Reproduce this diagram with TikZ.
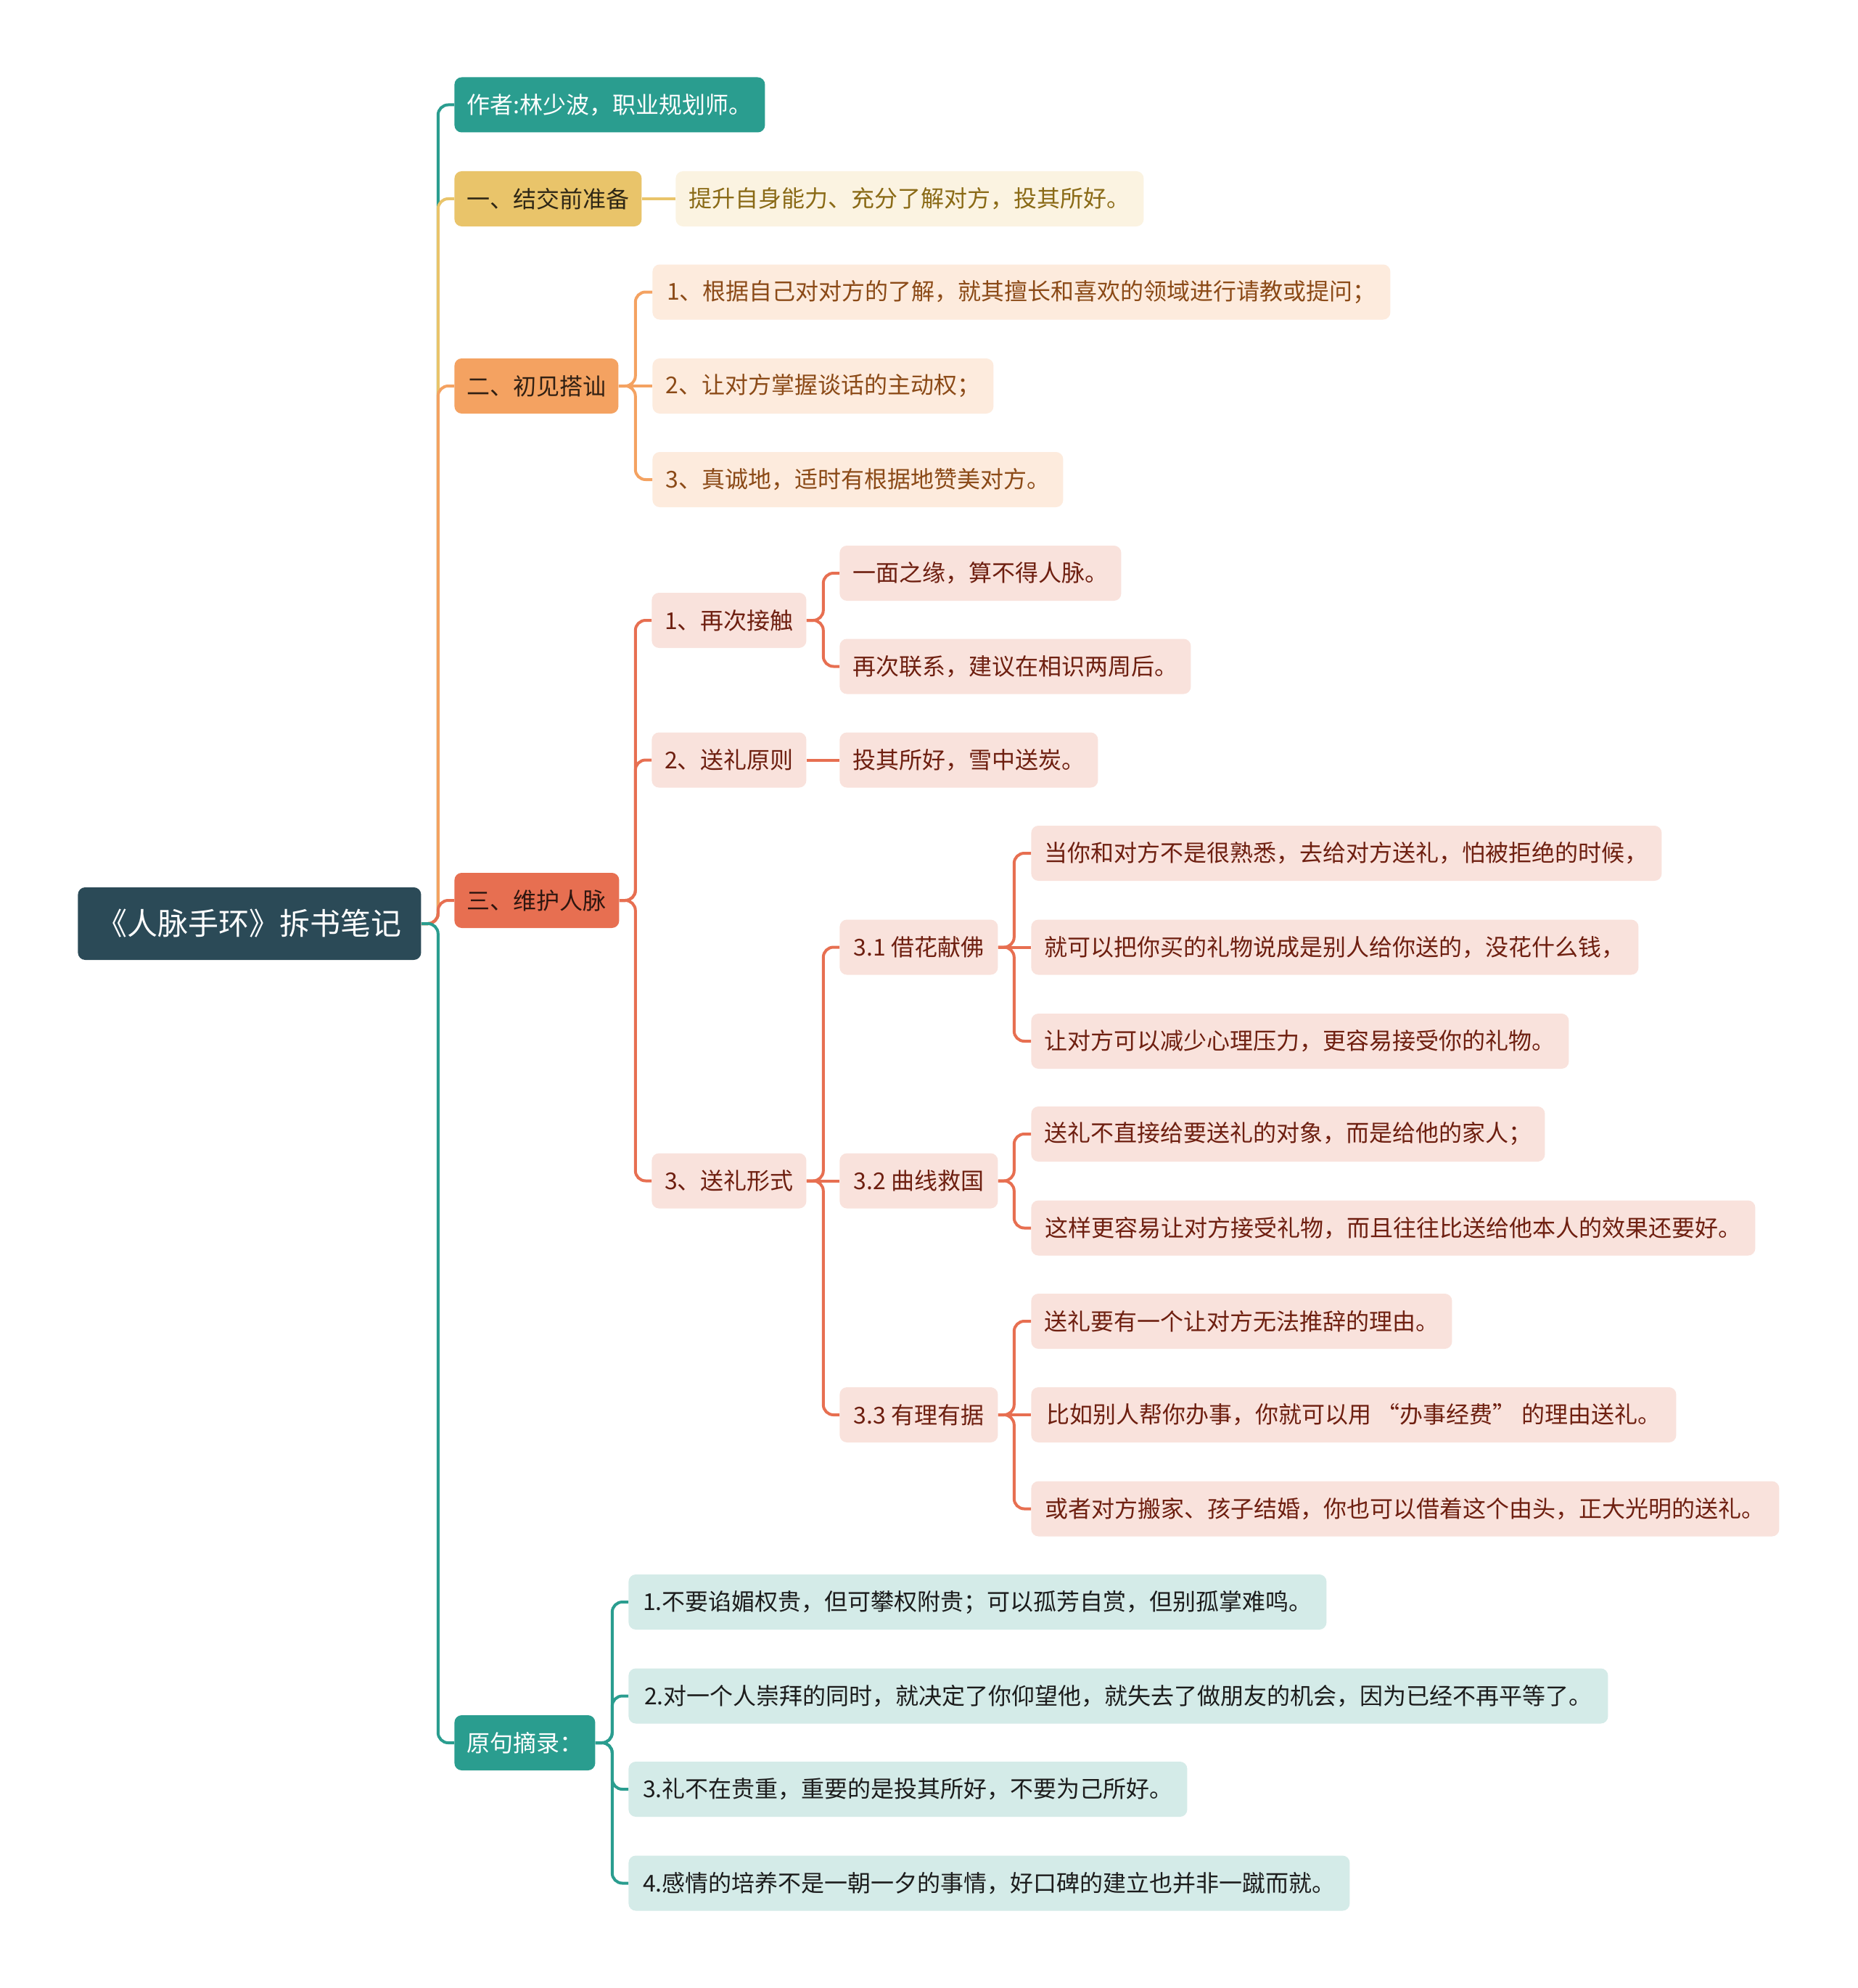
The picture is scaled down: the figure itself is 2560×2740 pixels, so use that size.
\documentclass[tikz,border=0pt]{standalone}
\usepackage{fontspec}
\newfontfamily\cjk{Noto Sans CJK SC}
\usepackage{tikz}

\definecolor{rootc}{HTML}{2B4A57}
\definecolor{tealc}{HTML}{2A9D8F}
\definecolor{yellowc}{HTML}{E9C46A}
\definecolor{orangec}{HTML}{F4A261}
\definecolor{redc}{HTML}{E76F51}
\definecolor{prepfill}{HTML}{FBF3E1}
\definecolor{preptext}{HTML}{8A6A16}
\definecolor{meetfill}{HTML}{FDEBDD}
\definecolor{meettext}{HTML}{8B4A17}
\definecolor{keepfill}{HTML}{F9E2DC}
\definecolor{keeptext}{HTML}{6E1F10}
\definecolor{quotefill}{HTML}{D4EBE8}
\definecolor{quotetext}{HTML}{1C1C1C}

\tikzset{
  wd/.style={minimum width=#1*0.5pt},
  box/.style={anchor=west, rounded corners=5pt, minimum height=38pt,
    inner xsep=7pt, inner ysep=0pt, font=\cjk\fontsize{16pt}{18pt}\selectfont},
  rootbox/.style={box, fill=rootc, text=white, minimum height=50pt,
    font=\cjk\fontsize{21pt}{24pt}\selectfont},
  tealbox/.style={box, fill=tealc, text=white},
  prepbox/.style={box, fill=yellowc, text=black!80!yellowc},
  meetbox/.style={box, fill=orangec, text=black!80!orangec},
  keepbox/.style={box, fill=redc, text=black!80!redc},
  prepleaf/.style={box, fill=prepfill, text=preptext},
  meetleaf/.style={box, fill=meetfill, text=meettext},
  keepleaf/.style={box, fill=keepfill, text=keeptext},
  quoteleaf/.style={box, fill=quotefill, text=quotetext},
  link/.style={line width=2pt, rounded corners=7pt}
}

\begin{document}
\begin{tikzpicture}[x=0.5pt, y=-0.5pt]
  \fill[white] (0,0) rectangle (2560,2740);
  \useasboundingbox (0,0) rectangle (2560,2740);

  % root and first level
  \node[rootbox, wd=473] (root) at (107,1273) {《人脉手环》拆书笔记};
  \node[tealbox, wd=428] (author) at (626,144.5) {作者:林少波，职业规划师。};
  \node[prepbox, wd=258] (prep) at (626,274) {一、结交前准备};
  \node[meetbox, wd=226] (meet) at (626,532) {二、初见搭讪};
  \node[keepbox, wd=227] (keep) at (626,1241) {三、维护人脉};
  \node[tealbox, wd=194] (quote) at (626,2402) {原句摘录：};

  % 一
  \node[prepleaf, wd=645] (prepa) at (931,274) {提升自身能力、充分了解对方，投其所好。};

  % 二
  \node[meetleaf, wd=1017] (meeta) at (899,402.5) {1、根据自己对对方的了解，就其擅长和喜欢的领域进行请教或提问；};
  \node[meetleaf, wd=470] (meetb) at (899,532) {2、让对方掌握谈话的主动权；};
  \node[meetleaf, wd=566] (meetc) at (899,661) {3、真诚地，适时有根据地赞美对方。};

  % 三
  \node[keepleaf, wd=213] (again) at (898,855) {1、再次接触};
  \node[keepleaf, wd=213] (rule) at (898,1047.5) {2、送礼原则};
  \node[keepleaf, wd=213] (form) at (898,1627.5) {3、送礼形式};
  \node[keepleaf, wd=388] (againa) at (1157,790) {一面之缘，算不得人脉。};
  \node[keepleaf, wd=484] (againb) at (1157,918.5) {再次联系，建议在相识两周后。};
  \node[keepleaf, wd=356] (rulea) at (1157,1047.5) {投其所好，雪中送炭。};
  \node[keepleaf, wd=218] (flower) at (1157,1305.5) {3.1 借花献佛};
  \node[keepleaf, wd=218] (curve) at (1157,1627.5) {3.2 曲线救国};
  \node[keepleaf, wd=218] (reason) at (1157,1950) {3.3 有理有据};
  \node[keepleaf, wd=869] (flowera) at (1421,1176) {当你和对方不是很熟悉，去给对方送礼，怕被拒绝的时候，};
  \node[keepleaf, wd=837] (flowerb) at (1421,1305.5) {就可以把你买的礼物说成是别人给你送的，没花什么钱，};
  \node[keepleaf, wd=741] (flowerc) at (1421,1435) {让对方可以减少心理压力，更容易接受你的礼物。};
  \node[keepleaf, wd=708] (curvea) at (1421,1563) {送礼不直接给要送礼的对象，而是给他的家人；};
  \node[keepleaf, wd=998] (curveb) at (1421,1692.5) {这样更容易让对方接受礼物，而且往往比送给他本人的效果还要好。};
  \node[keepleaf, wd=580] (reasona) at (1421,1821) {送礼要有一个让对方无法推辞的理由。};
  \node[keepleaf, wd=889] (reasonb) at (1421,1950) {比如别人帮你办事，你就可以用 “办事经费” 的理由送礼。};
  \node[keepleaf, wd=1031] (reasonc) at (1421,2079.5) {或者对方搬家、孩子结婚，你也可以借着这个由头，正大光明的送礼。};

  % 原句摘录
  \node[quoteleaf, wd=962] (quotea) at (866,2208) {1.不要谄媚权贵，但可攀权附贵；可以孤芳自赏，但别孤掌难鸣。};
  \node[quoteleaf, wd=1350] (quoteb) at (866,2337.5) {2.对一个人崇拜的同时，就决定了你仰望他，就失去了做朋友的机会，因为已经不再平等了。};
  \node[quoteleaf, wd=770] (quotec) at (866,2466) {3.礼不在贵重，重要的是投其所好，不要为己所好。};
  \node[quoteleaf, wd=994] (quoted) at (866,2595.5) {4.感情的培养不是一朝一夕的事情，好口碑的建立也并非一蹴而就。};

  % connectors
  \draw[link, tealc] (root.east) -- ++(23,0) |- (author.west);
  \draw[link, yellowc] (root.east) -- ++(23,0) |- (prep.west);
  \draw[link, orangec] (root.east) -- ++(23,0) |- (meet.west);
  \draw[link, redc] (root.east) -- ++(23,0) |- (keep.west);
  \draw[link, tealc] (root.east) -- ++(23,0) |- (quote.west);

  \draw[link, yellowc] (prep.east) -- (prepa.west);
  \foreach \c in {meeta,meetc}
    \draw[link, orangec] (meet.east) -- ++(23,0) |- (\c.west);
  \draw[link, orangec] (meet.east) -- (meetb.west);
  \foreach \c in {again,rule,form}
    \draw[link, redc] (keep.east) -- ++(22,0) |- (\c.west);
  \foreach \c in {againa,againb}
    \draw[link, redc] (again.east) -- ++(23,0) |- (\c.west);
  \draw[link, redc] (rule.east) -- (rulea.west);
  \foreach \c in {flower,reason}
    \draw[link, redc] (form.east) -- ++(23,0) |- (\c.west);
  \draw[link, redc] (form.east) -- (curve.west);
  \foreach \c in {flowera,flowerc}
    \draw[link, redc] (flower.east) -- ++(22,0) |- (\c.west);
  \draw[link, redc] (flower.east) -- (flowerb.west);
  \foreach \c in {curvea,curveb}
    \draw[link, redc] (curve.east) -- ++(22,0) |- (\c.west);
  \foreach \c in {reasona,reasonc}
    \draw[link, redc] (reason.east) -- ++(22,0) |- (\c.west);
  \draw[link, redc] (reason.east) -- (reasonb.west);
  \foreach \c in {quotea,quoteb,quotec,quoted}
    \draw[link, tealc] (quote.east) -- ++(23,0) |- (\c.west);
\end{tikzpicture}
\end{document}
